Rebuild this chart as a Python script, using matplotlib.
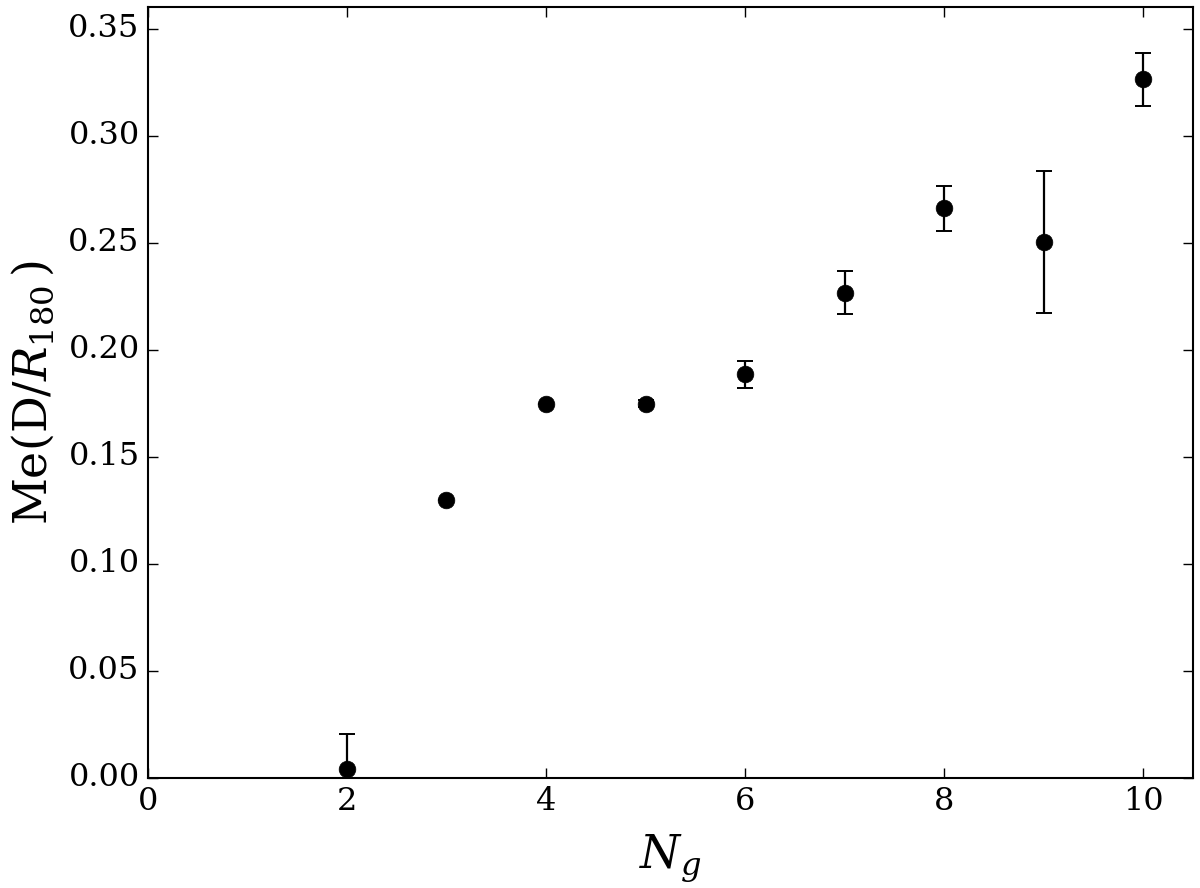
import numpy as np
from matplotlib import pyplot as plt

# group multiplicity and median normalised distance
ng = [2, 3, 4, 5, 6, 7, 8, 9, 10]
me = [0.0042, 0.1298, 0.1748, 0.1748, 0.1885, 0.2267, 0.2661, 0.2503, 0.3263]
err = [0.0162, 0.0, 0.0, 0.0015, 0.0062, 0.0099, 0.0105, 0.0331, 0.0124]

plt.style.use('classic')
plt.rcParams['font.family'] = 'DejaVu Serif'
plt.rcParams['mathtext.fontset'] = 'dejavuserif'

fig = plt.figure(figsize=(12, 8.88), dpi=100)
ax = fig.add_axes([0.1233, 0.1239, 0.8707, 0.8681])

ax.errorbar(ng, me, yerr=err, fmt='o', color='k', mec='k', ms=12,
            elinewidth=1.6, capsize=6, capthick=1.4)

ax.set_xlim(0, 10.5)
ax.set_ylim(0, 0.36)
ax.set_xticks(np.arange(0, 11, 2))
ax.set_yticks(np.arange(0, 0.351, 0.05))
ax.yaxis.set_major_formatter(plt.FormatStrFormatter('%.2f'))
ax.tick_params(axis='both', which='major', labelsize=23, length=7, width=1,
               direction='in', top=True, right=True, pad=6)
for s in ax.spines.values():
    s.set_linewidth(1.5)

ax.set_xlabel(r'$N_g$', fontsize=33, labelpad=11)
ax.set_ylabel(r'Me(D/$R_{180}\,$)', fontsize=33, labelpad=8)

fig.savefig('out.png', dpi=100, facecolor='white')
